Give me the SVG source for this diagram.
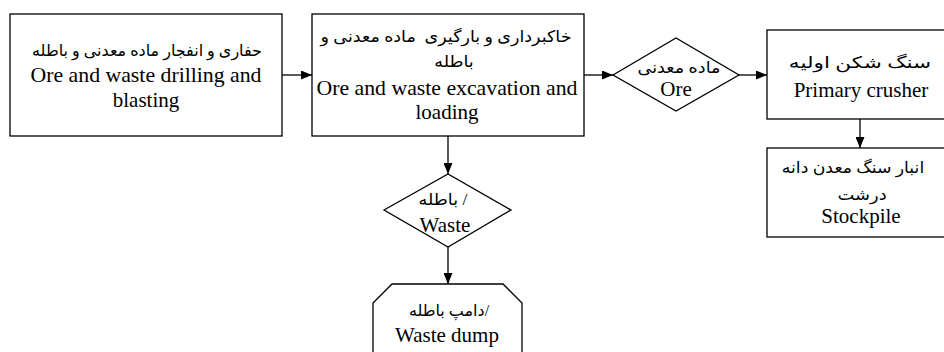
<svg xmlns="http://www.w3.org/2000/svg" width="944" height="352" viewBox="0 0 944 352">
<style>
.n{fill:#fff;stroke:#000;stroke-width:1.3}
.en{font-family:"Liberation Serif","Times New Roman",serif;font-size:21px;fill:#000;text-anchor:middle}
.fa{font-family:"Liberation Serif","DejaVu Sans",serif;font-size:16px;fill:#000;text-anchor:middle}
.c{fill:none;stroke:#000;stroke-width:1.3}
</style>
<defs>
<marker id="ah" markerUnits="userSpaceOnUse" markerWidth="11" markerHeight="9" refX="11" refY="4.5" orient="auto">
<path d="M0,0 L11,4.5 L0,9 z" fill="#000"/>
</marker>
</defs>
<rect width="944" height="352" fill="#fff"/>
<g id="connectors">
<line class="c" x1="282" y1="75" x2="312" y2="75" marker-end="url(#ah)"/>
<line class="c" x1="584" y1="75" x2="613" y2="75" marker-end="url(#ah)"/>
<line class="c" x1="739" y1="75" x2="767" y2="75" marker-end="url(#ah)"/>
<line class="c" x1="860" y1="119" x2="860" y2="148" marker-end="url(#ah)"/>
<line class="c" x1="448" y1="136" x2="448" y2="174" marker-end="url(#ah)"/>
<line class="c" x1="448" y1="247" x2="448" y2="284" marker-end="url(#ah)"/>
</g>
<g id="drilling">
<rect class="n" x="10" y="14" width="272" height="122"/>
<text class="fa" x="147" y="56" textLength="230" lengthAdjust="spacingAndGlyphs">حفاری و انفجار ماده معدنی و باطله</text>
<text class="en" x="146" y="82" textLength="231" lengthAdjust="spacingAndGlyphs">Ore and waste drilling and</text>
<text class="en" x="146" y="107">blasting</text>
</g>
<g id="excavation">
<rect class="n" x="312" y="14" width="272" height="122"/>
<text class="fa" x="446" y="42" textLength="251" lengthAdjust="spacingAndGlyphs" xml:space="preserve">خاکبرداری و بارگیری  ماده معدنی و</text>
<text class="fa" transform="translate(454,67) scale(1.1,1)">باطله</text>
<text class="en" x="447" y="95" textLength="261" lengthAdjust="spacingAndGlyphs">Ore and waste excavation and</text>
<text class="en" x="447" y="119">loading</text>
</g>
<g id="ore">
<polygon class="n" points="613,75 676,38 739,75 676,111"/>
<text class="fa" transform="translate(679,73) scale(1.1,1)">ماده معدنی</text>
<text class="en" x="676" y="96">Ore</text>
</g>
<g id="crusher">
<rect class="n" x="767" y="30" width="186" height="89"/>
<text class="fa" transform="translate(860,68) scale(1.35,1)">سنگ شکن اولیه</text>
<text class="en" x="861" y="97">Primary crusher</text>
</g>
<g id="stockpile">
<rect class="n" x="767" y="148" width="186" height="89"/>
<text class="fa" transform="translate(853,173) scale(1.08,1)">انبار سنگ معدن دانه</text>
<text class="fa" transform="translate(862,200) scale(1.12,1)">درشت</text>
<text class="en" x="861" y="223">Stockpile</text>
</g>
<g id="waste">
<polygon class="n" points="384,210 448,174 511,210 448,247"/>
<text class="fa" transform="translate(443,205) scale(1.1,1)">باطله /</text>
<text class="en" x="445" y="232">Waste</text>
</g>
<g id="dump">
<polygon class="n" points="373,360 373,303 392,284 503,284 522,303 522,360"/>
<text class="fa" x="449" y="316">دامپ باطله/</text>
<text class="en" x="447" y="342">Waste dump</text>
</g>
</svg>
